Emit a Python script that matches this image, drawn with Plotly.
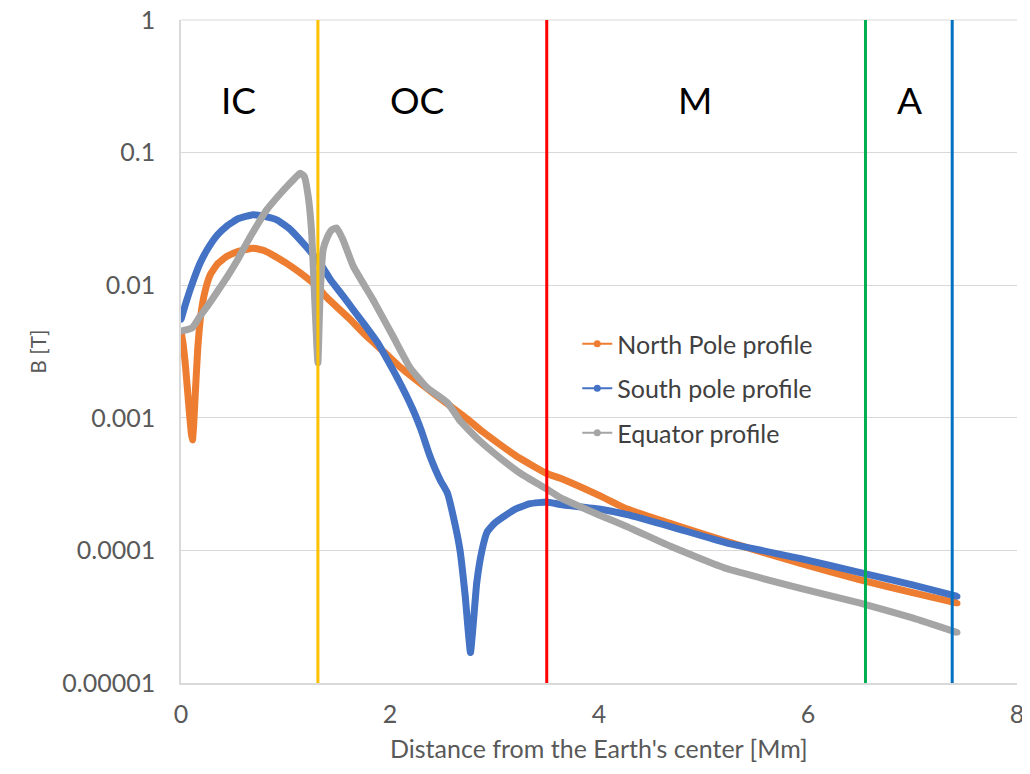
import math
import plotly.graph_objects as go

# ---- data ----
north_x = [0.00,0.02,0.04,0.06,0.08,0.10,0.11,0.12,0.14,0.16,0.19,0.23,0.28,0.35,0.44,0.55,0.69,0.80,0.90,1.00,1.14,1.30,1.40,1.60,1.78,1.95,2.10,2.41,2.74,2.89,3.20,3.50,3.63,4.00,4.27,4.70,5.22,5.92,6.50,7.00,7.43]
north_y = [0.0045,0.0036,0.0026,0.0017,0.0011,0.00075,0.00068,0.00085,0.0017,0.0033,0.0060,0.0090,0.0120,0.0145,0.0165,0.0180,0.0190,0.0182,0.0165,0.0148,0.0124,0.0098,0.0080,0.0057,0.0041,0.0031,0.0024,0.00154,0.00098,0.00078,0.00052,0.00038,0.00035,0.00026,0.000205,0.000158,0.000117,0.000080,0.000060,0.000048,0.000040]

south_x = [0.00,0.05,0.11,0.18,0.25,0.35,0.44,0.55,0.69,0.80,0.92,1.03,1.14,1.25,1.36,1.43,1.55,1.65,1.76,1.88,2.07,2.22,2.30,2.38,2.48,2.55,2.62,2.67,2.72,2.77,2.80,2.83,2.88,2.93,3.00,3.08,3.20,3.34,3.50,3.63,4.00,4.27,4.70,5.22,5.92,6.50,7.00,7.43]
south_y = [0.0055,0.0075,0.0104,0.0145,0.0185,0.024,0.028,0.0318,0.034,0.033,0.031,0.027,0.022,0.0175,0.0135,0.011,0.0083,0.0065,0.0050,0.0037,0.0020,0.00115,0.00080,0.00052,0.00034,0.00027,0.00016,0.00010,0.000045,0.000017,0.000030,0.000057,0.000100,0.000138,0.000160,0.000178,0.000205,0.000225,0.000232,0.000222,0.000205,0.000186,0.000150,0.000114,0.000087,0.000068,0.000055,0.000045]

equator_x = [0.00,0.05,0.11,0.18,0.25,0.35,0.44,0.55,0.66,0.82,0.98,1.08,1.14,1.18,1.22,1.25,1.28,1.30,1.31,1.33,1.36,1.40,1.44,1.49,1.55,1.65,1.84,2.03,2.19,2.35,2.55,2.67,2.85,3.05,3.25,3.50,3.63,4.00,4.27,4.70,5.22,5.92,6.50,7.00,7.43]
equator_y = [0.0045,0.0046,0.0048,0.0058,0.0069,0.0090,0.0115,0.016,0.023,0.037,0.052,0.063,0.070,0.066,0.045,0.025,0.0077,0.0035,0.0026,0.0080,0.0185,0.023,0.026,0.027,0.022,0.0138,0.0077,0.0041,0.0024,0.0017,0.0013,0.00095,0.00068,0.00050,0.00038,0.00029,0.00025,0.000185,0.000151,0.000106,0.000073,0.000052,0.000040,0.000031,0.000024]

series_names = ["North Pole profile", "South pole profile", "Equator profile"]
series_colors = ["#ED7D31", "#4472C4", "#A5A5A5"]

boundary_x = [1.31, 3.50, 6.55, 7.38]
boundary_colors = ["#FFC000", "#FF0000", "#00B050", "#0070C0"]

region_labels = ["IC", "OC", "M", "A"]
region_label_x = [0.55, 2.26, 4.92, 6.97]
region_label_y = 0.25

y_tickvals = [1, 0.1, 0.01, 0.001, 0.0001, 0.00001]
y_ticktext = ["1", "0.1", "0.01", "0.001", "0.0001", "0.00001"]
x_tickvals = [0, 2, 4, 6, 8]

x_title = "Distance from the Earth's center [Mm]"
y_title = "B [T]"

FONT = "Lato, 'Open Sans', sans-serif"
TXT = "#595959"
GRID = "#D9D9D9"

fig = go.Figure()
data = [(north_x, north_y), (south_x, south_y), (equator_x, equator_y)]
for (xs, ys), name, col in zip(data, series_names, series_colors):
    fig.add_trace(go.Scatter(x=xs, y=ys, mode="lines+markers", name=name,
                             line=dict(color=col, width=7, shape="spline", smoothing=0.4),
                             marker=dict(color=col, size=6),
                             showlegend=False, hoverinfo="skip"))

# vertical boundary lines (drawn over the curves)
for bx, bc in zip(boundary_x, boundary_colors):
    fig.add_trace(go.Scatter(x=[bx, bx], y=[y_tickvals[-1], y_tickvals[0]], mode="lines",
                             line=dict(color=bc, width=3), showlegend=False, hoverinfo="skip"))

# legend entries
for i, (name, col) in enumerate(zip(series_names, series_colors)):
    fig.add_trace(go.Scatter(x=[None], y=[None], mode="lines+markers", name=name,
                             line=dict(color=col, width=2), marker=dict(color=col, size=7),
                             legendgroup=f"g{i}"))

for lab, lx in zip(region_labels, region_label_x):
    fig.add_annotation(x=lx, y=math.log10(region_label_y), yref="y", xref="x", text=lab,
                       showarrow=False, font=dict(family=FONT, size=37, color="#000000"))

fig.add_annotation(x=0.5, y=-0.098, xref="paper", yref="paper", text=x_title,
                   showarrow=False, xanchor="center", yanchor="middle",
                   font=dict(family=FONT, size=25, color=TXT))
fig.add_annotation(x=-0.172, y=0.5, xref="paper", yref="paper", text=y_title,
                   showarrow=False, xanchor="center", yanchor="middle", textangle=-90,
                   font=dict(family=FONT, size=21, color=TXT))

# top gridline (value 1) at the edge of the plot area
fig.add_shape(type="line", xref="paper", yref="paper", x0=0, x1=1, y0=1, y1=1,
              line=dict(color=GRID, width=1.2), layer="below")

# page body has an 8px margin, so the figure is sized / offset to compensate
fig.update_layout(
    width=1022, height=766,
    margin=dict(l=173, r=13, t=12, b=91),
    paper_bgcolor="white", plot_bgcolor="white",
    font=dict(family=FONT, color=TXT, size=25),
    legend=dict(x=0.474, y=0.546, xanchor="left", yanchor="top",
                bgcolor="rgba(0,0,0,0)", font=dict(size=25, color="#404040"),
                tracegroupgap=9, itemwidth=30),
    xaxis=dict(range=[0, 8], tickvals=x_tickvals, showgrid=False, zeroline=False,
               showline=True, linecolor=GRID, linewidth=1.5, ticks="",
               automargin=False, ticklabelstandoff=8, ticklabeloverflow="allow",
               tickfont=dict(size=25, color=TXT)),
    yaxis=dict(type="log", range=[-5, 0], tickvals=y_tickvals, ticktext=y_ticktext,
               showgrid=True, gridcolor=GRID, gridwidth=1.2, zeroline=False,
               showline=True, linecolor=GRID, linewidth=1.5, ticks="",
               automargin=False, ticklabelstandoff=19, ticklabeloverflow="allow",
               tickfont=dict(size=25, color=TXT)),
)

fig.write_html("out.html")
